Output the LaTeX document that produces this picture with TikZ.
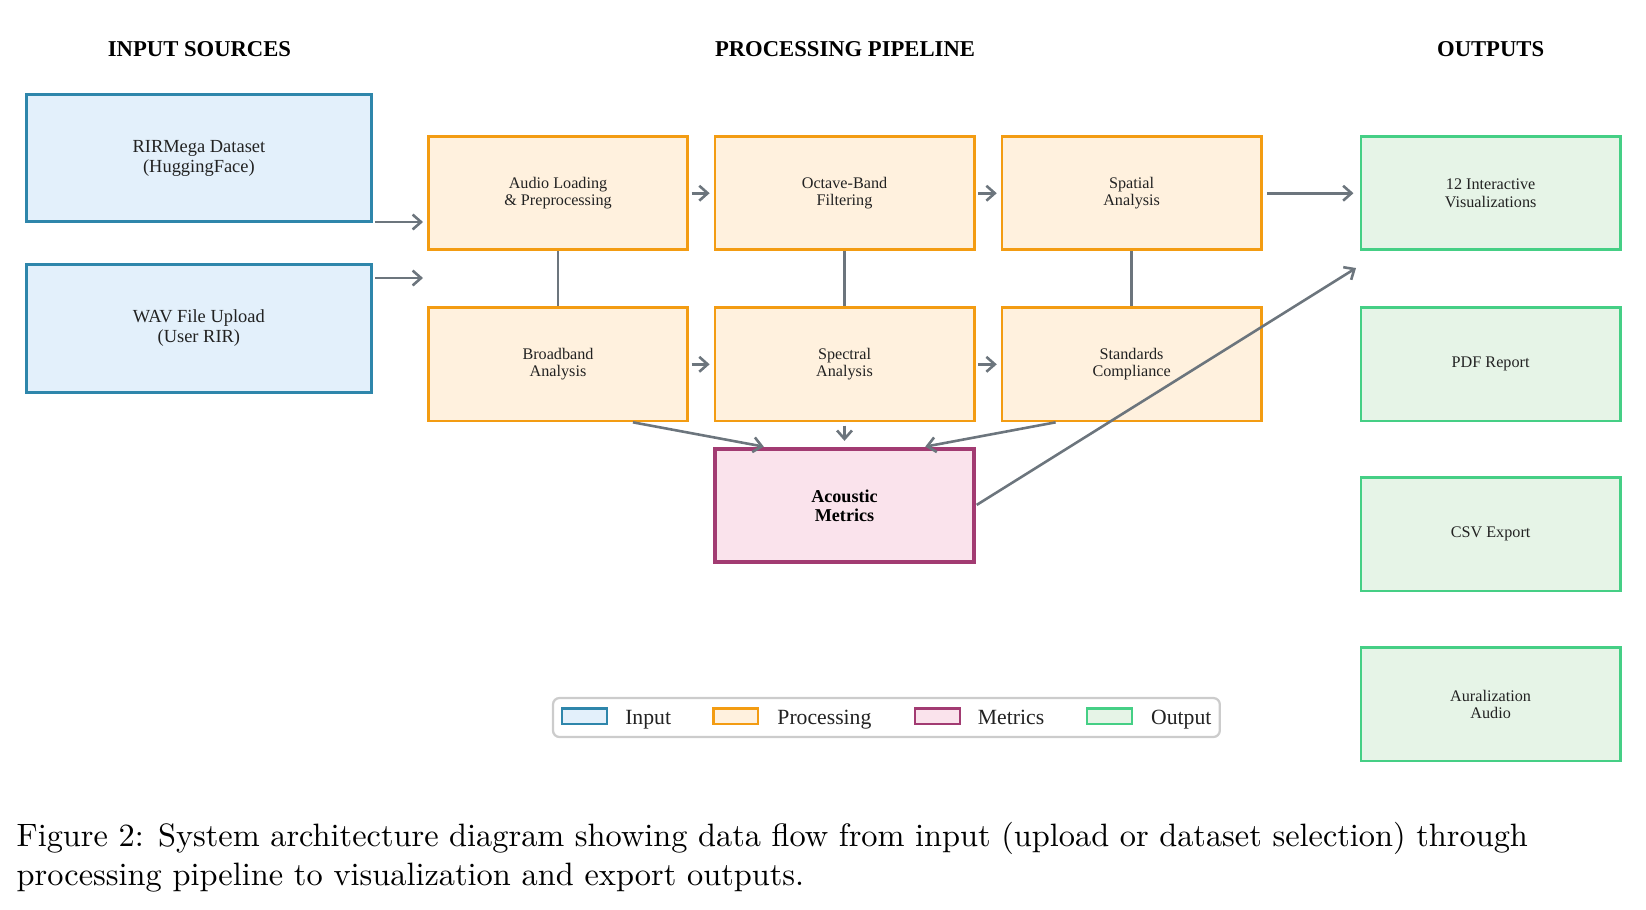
\documentclass[tikz,border=0pt]{standalone}
\usepackage{fontspec}
\newfontfamily\tms{Liberation Serif}
\usetikzlibrary{arrows.meta,calc}
\definecolor{inF}{HTML}{E3F0FB}
\definecolor{inD}{HTML}{2E86AB}
\definecolor{prF}{HTML}{FFF1DE}
\definecolor{prD}{HTML}{F39C12}
\definecolor{meF}{HTML}{FAE3EC}
\definecolor{meD}{HTML}{A23B72}
\definecolor{ouF}{HTML}{E6F4E7}
\definecolor{ouD}{HTML}{45CF85}
\definecolor{arrC}{HTML}{6C757D}
\definecolor{txt}{HTML}{222222}
\definecolor{legD}{HTML}{CCCCCC}
\begin{document}
\begin{tikzpicture}[x=0.309pt,y=-0.309pt,
  box/.style={draw, line width=0.85pt, minimum width=80.1pt, minimum height=35pt, inner sep=0pt, align=center, text=txt, font=\tms\fontsize{5}{5.3}\selectfont},
  inbox/.style={box, fill=inF, draw=inD, minimum width=106.7pt, minimum height=39.4pt, font=\tms\fontsize{5.7}{6.2}\selectfont},
  prbox/.style={box, fill=prF, draw=prD},
  mebox/.style={box, fill=meF, draw=meD, line width=1.1pt, text=black, font=\tms\bfseries\fontsize{5.6}{5.8}\selectfont},
  oubox/.style={box, fill=ouF, draw=ouD},
  title/.style={inner sep=0pt, font=\tms\bfseries\fontsize{7}{8}\selectfont},
  arr/.style={draw=arrC, line width=0.8pt, -{Straight Barb[length=2.6pt,width=4.6pt]}},
  conn/.style={draw=arrC, line width=0.8pt},
  patch/.style={draw, line width=0.7pt, minimum width=13.8pt, minimum height=4.9pt, inner sep=0pt},
  legtext/.style={anchor=base west, inner sep=0pt, text=txt, font=\tms\fontsize{6.7}{8}\selectfont},
  captext/.style={anchor=base west, inner sep=0pt, font=\fontsize{10}{12}\selectfont}
]
\useasboundingbox (0,0) rectangle (1646,909);

% titles
\node[title] (t1) at (199.5,49.3) {INPUT SOURCES};
\node[title] (t2) at (845,49.3) {PROCESSING PIPELINE};
\node[title] (t3) at (1490.6,49.3) {OUTPUTS};

% inputs
\node[inbox] (in1) at (198.9,158) {RIRMega Dataset\\(HuggingFace)};
\node[inbox] (in2) at (198.9,328.5) {WAV File Upload\\(User RIR)};

% processing
\node[prbox] (p1) at (558,193.2) {Audio Loading\\\& Preprocessing};
\node[prbox] (p2) at (844.5,193.2) {Octave-Band\\Filtering};
\node[prbox] (p3) at (1131.6,193.2) {Spatial\\Analysis};
\node[prbox] (b1) at (558,364.3) {Broadband\\Analysis};
\node[prbox] (b2) at (844.5,364.3) {Spectral\\Analysis};
\node[prbox] (b3) at (1131.6,364.3) {Standards\\Compliance};

% metrics
\node[mebox] (m) at (844.5,505.4) {Acoustic\\Metrics};

% outputs
\node[oubox] (o1) at (1490.6,193.2) {12 Interactive\\Visualizations};
\node[oubox] (o2) at (1490.6,364.3) {PDF Report};
\node[oubox] (o3) at (1490.6,534.3) {CSV Export};
\node[oubox] (o4) at (1490.6,704.4) {Auralization\\Audio};

% input arrows
\coordinate (a1s) at (375,222);
\coordinate (a1e) at (423,222);
\coordinate (a2s) at (375,278);
\coordinate (a2e) at (423,278);
\draw[arr] (a1s) -- (a1e);
\draw[arr] (a2s) -- (a2e);

% row arrows
\draw[arr, shorten <=0.8pt, shorten >=1.2pt] (p1.east) -- (p2.west);
\draw[arr, shorten <=0.8pt, shorten >=1.2pt] (p2.east) -- (p3.west);
\draw[arr, shorten <=0.8pt, shorten >=1.2pt] (b1.east) -- (b2.west);
\draw[arr, shorten <=0.8pt, shorten >=1.2pt] (b2.east) -- (b3.west);
\draw[arr, shorten <=1.3pt, shorten >=1.9pt] (p3.east) -- (o1.west);

% vertical links
\draw[conn] (p1.south) -- (b1.north);
\draw[conn] (p2.south) -- (b2.north);
\draw[conn] (p3.south) -- (b3.north);

% to metrics
\draw[arr, shorten >=0.6pt] ($(b1.south west)!0.786!(b1.south east)$) -- ($(m.north west)!0.2!(m.north east)$);
\draw[arr, shorten <=1pt, shorten >=1.9pt] (b2.south) -- (m.north);
\draw[arr, shorten >=0.6pt] ($(b3.south west)!0.21!(b3.south east)$) -- ($(m.north west)!0.8!(m.north east)$);

% metrics to visualizations
\coordinate (mv) at (1356,268);
\draw[arr, shorten <=0.3pt] (m.east) -- (mv);

% legend
\draw[legD, line width=0.7pt, rounded corners=2pt, fill=white] (553,698) rectangle (1219.8,737);
\node[patch, fill=inF, draw=inD] (l1) at (584.6,716.4) {};
\node[legtext] (l1t) at (624.6,724) {Input};
\node[patch, fill=prF, draw=prD] (l2) at (735.8,716.4) {};
\node[legtext] (l2t) at (776.8,724) {Processing};
\node[patch, fill=meF, draw=meD] (l3) at (937.3,716.4) {};
\node[legtext] (l3t) at (977.3,724) {Metrics};
\node[patch, fill=ouF, draw=ouD] (l4) at (1109.5,716.4) {};
\node[legtext] (l4t) at (1150.5,724) {Output};

% caption
\node[captext] (cap1) at (16,846) {\makebox[467pt][s]{Figure 2: System architecture diagram showing data flow from input (upload or dataset selection) through}};
\node[captext] (cap2) at (16,885) {processing pipeline to visualization and export outputs.};
\end{tikzpicture}
\end{document}
